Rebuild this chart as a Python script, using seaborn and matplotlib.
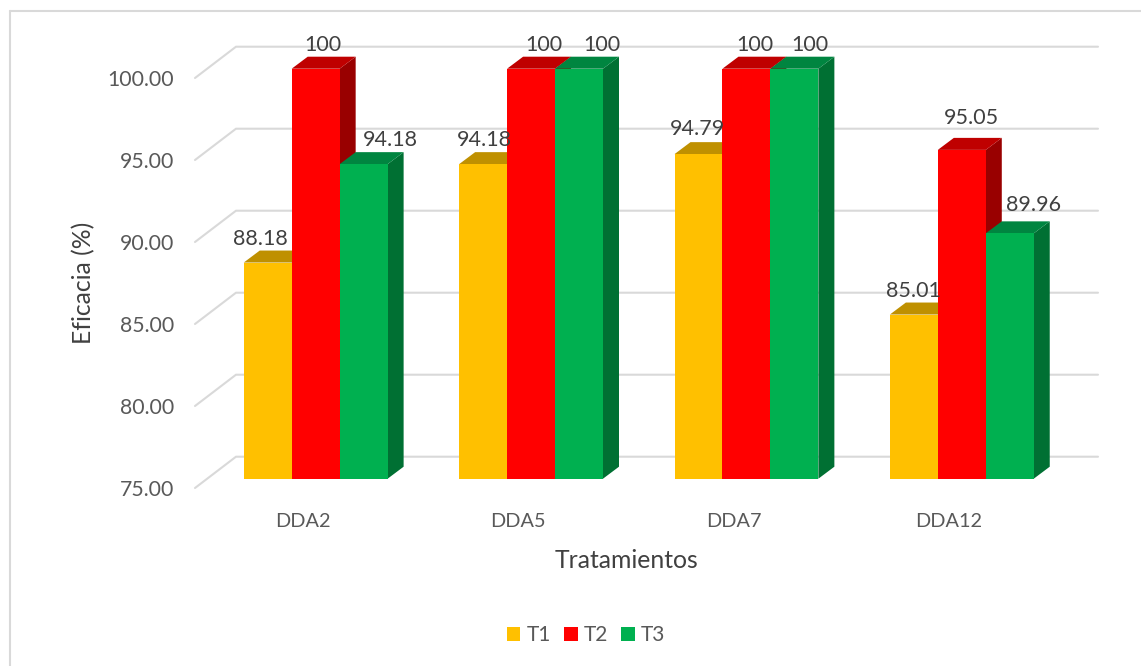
# recreate 3D-look clustered bars (seaborn front faces, depth added by hand)
import pandas as pd
import matplotlib
matplotlib.use('Agg')
import matplotlib.pyplot as plt
import seaborn as sns
from matplotlib.lines import Line2D
from matplotlib.patches import Polygon
from matplotlib.transforms import IdentityTransform, ScaledTranslation

categories = ['DDA2', 'DDA5', 'DDA7', 'DDA12']
t1 = [88.18, 94.18, 94.79, 85.01]
t2 = [100, 100, 100, 95.05]
t3 = [94.18, 100, 100, 89.96]
y_ticks = [75, 80, 85, 90, 95, 100]

W, H = 1141, 666
colors = {'T1': '#FFC000', 'T2': '#FF0000', 'T3': '#00B050'}
top_colors = {'T1': '#BF9000', 'T2': '#BF0000', 'T3': '#008540'}
side_colors = {'T1': '#997300', 'T2': '#990000', 'T3': '#007033'}
# label shift from bar centre top, in pixels
label_shift = {'T1': [(-7, 24), (1, 24), (-1, 25), (0, 24)],
               'T2': [(7, 24), (13, 24), (8, 24), (10, 32)],
               'T3': [(27, 24), (23, 24), (15, 24), (24, 28)]}

df = pd.DataFrame({'cat': categories * 3,
                   'serie': ['T1'] * 4 + ['T2'] * 4 + ['T3'] * 4,
                   'val': t1 + t2 + t3})

sns.set_style('white')
plt.rcParams['font.family'] = ['Lato', 'DejaVu Sans']

fig = plt.figure(figsize=(W / 100, H / 100), dpi=100)
# axes box is in image pixels: 75 -> y 478.7, 100 -> y 68.7
ax = fig.add_axes([208 / W, 1 - 478.7 / H, 861.5 / W, 410 / H])
ax.patch.set_alpha(0)

sns.barplot(data=df, x='cat', y='val', hue='serie', palette=colors,
            width=0.668, gap=0, saturation=1, ax=ax, zorder=5,
            linewidth=0, edgecolor='none')
ax.set_xlim(-0.5, 3.5)
ax.set_ylim(75, 100)
sns.despine(ax=ax, left=True, bottom=True)


def px(x, y):
    return (x / W, 1 - y / H)


# outer frame
frame = dict(color='#D9D9D9', lw=1.5, transform=fig.transFigure, zorder=0)
fig.add_artist(Line2D([px(10, 0)[0], px(1141, 0)[0]], [px(0, 11)[1]] * 2, **frame))
fig.add_artist(Line2D([px(10, 0)[0]] * 2, [px(0, 11)[1], px(0, 666)[1]], **frame))

# back wall grid and floor diagonals
for v in y_ticks:
    y0 = 478.7 - (v - 75) * 16.4
    fig.add_artist(Line2D([px(195, 0)[0], px(236, 0)[0], px(1098, 0)[0]],
                          [px(0, y0 + 9.3)[1], px(0, y0 - 22)[1], px(0, y0 - 22)[1]],
                          color='#D9D9D9', lw=1.5, transform=fig.transFigure, zorder=0))

ax.set_yticks(y_ticks)
ax.set_yticklabels(['%.2f' % v for v in y_ticks])
ax.tick_params(axis='y', length=0, pad=24.5, labelsize=15.3, labelcolor='#595959')
ax.tick_params(axis='x', length=0, pad=25, labelsize=14.3, labelcolor='#595959')
shift = ScaledTranslation(0, -9.3 / 100, fig.dpi_scale_trans)
for lab in ax.get_yticklabels():
    lab.set_transform(lab.get_transform() + shift)
shift_x = ScaledTranslation(-13 / 100, 0, fig.dpi_scale_trans)
for lab in ax.get_xticklabels():
    lab.set_transform(lab.get_transform() + shift_x)

# depth of every bar
dx, dy = 16, 12
series = ['T1', 'T2', 'T3']
for s, cont in zip(series, ax.containers):
    for k, bar in enumerate(cont):
        z = 5 + series.index(s) * 2
        bar.set_zorder(z)
        x0, y0 = ax.transData.transform((bar.get_x(), 75))
        x1, y1 = ax.transData.transform((bar.get_x() + bar.get_width(), bar.get_height()))
        side = [(x1, y0), (x1 + dx, y0 + dy), (x1 + dx, y1 + dy), (x1, y1)]
        top = [(x0, y1), (x0 + dx, y1 + dy), (x1 + dx, y1 + dy), (x1, y1)]
        ax.add_patch(Polygon(side, closed=True, fc=side_colors[s], ec='none',
                             transform=IdentityTransform(), zorder=z - 1, clip_on=False))
        ax.add_patch(Polygon(top, closed=True, fc=top_colors[s], ec='none',
                             transform=IdentityTransform(), zorder=z - 1, clip_on=False))
        sx, sy = label_shift[s][k]
        ax.annotate('%g' % bar.get_height(),
                    xy=(bar.get_x() + bar.get_width() / 2, bar.get_height()),
                    xytext=(sx * 0.72, sy * 0.72), textcoords='offset points',
                    ha='center', va='center', fontsize=15.5, color='#404040',
                    zorder=20, annotation_clip=False)

ax.set_xlabel('Tratamientos', fontsize=17.8, color='#404040')
ax.xaxis.set_label_coords(626.5 / W, 1 - 560 / H, transform=fig.transFigure)
ax.xaxis.label.set_va('center')
ax.set_ylabel('Eficacia (%)', fontsize=17.8, color='#404040')
ax.yaxis.set_label_coords(84 / W, 1 - 283 / H, transform=fig.transFigure)
ax.yaxis.label.set_va('center')

leg = ax.legend(loc='center', bbox_to_anchor=(586 / W, 1 - 635 / H),
                bbox_transform=fig.transFigure, ncol=3, frameon=False,
                fontsize=15, handlelength=0.67, handleheight=0.67,
                handletextpad=0.29, columnspacing=0.62, borderpad=0, title=None)
for t in leg.get_texts():
    t.set_color('#595959')

fig.savefig('out.png', dpi=100)
